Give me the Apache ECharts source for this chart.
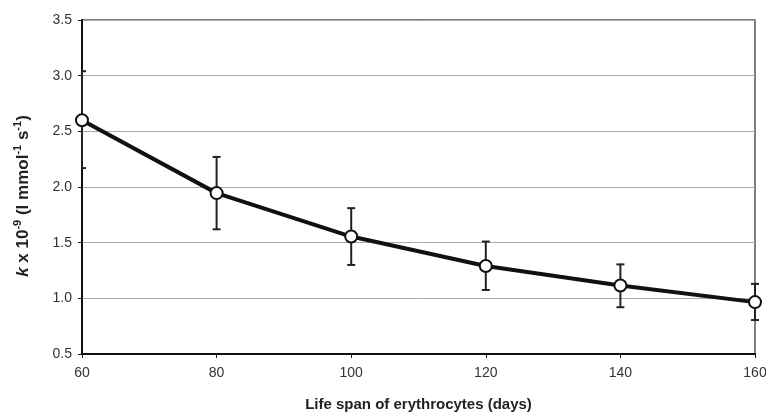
<!DOCTYPE html>
<html lang="en">
<head>
    <meta charset="UTF-8">
    <title>Life span chart</title>
    <script src="https://cdn.jsdelivr.net/npm/echarts@6/dist/echarts.min.js"></script>
</head>
<body style="margin: 0">
<div id="main" style="width: 766px;height: 412px"></div>
<script>
    const days = [60, 80, 100, 120, 140, 160];
    const kValues = [2.60, 1.945, 1.555, 1.29, 1.115, 0.966];
    const errLow = [2.17, 1.62, 1.30, 1.075, 0.92, 0.805];
    const errHigh = [3.04, 2.27, 1.81, 1.51, 1.305, 1.13];

    const chartDom = document.getElementById('main');
    const myChart = echarts.init(chartDom);
    const font = 'Liberation Sans, Arial, sans-serif';

    const errData = days.map((d, i) => [d, errLow[i], errHigh[i]]);

    let option = {
        animation: false,
        textStyle: {fontFamily: font},
        grid: {
            left: 82, right: 11, top: 20, bottom: 58,
            outerBoundsMode: 'none',
            show: true, borderColor: '#555', borderWidth: 1.5
        },
        xAxis: {
            type: 'value',
            min: 60, max: 160, interval: 20,
            name: 'Life span of erythrocytes (days)',
            nameLocation: 'middle',
            nameGap: 43,
            nameTextStyle: {fontSize: 15, fontWeight: 'bold', color: '#222', fontFamily: font},
            axisLine: {lineStyle: {color: '#111', width: 2}},
            axisTick: {show: true, length: 4, lineStyle: {color: '#111', width: 1}},
            axisLabel: {fontSize: 14, color: '#333', margin: 12, fontFamily: font},
            splitLine: {show: false}
        },
        yAxis: {
            type: 'value',
            min: 0.5, max: 3.5, interval: 0.5,
            name: '{i|k}{b| x 10}{s|-9}{b| (l mmol}{s|-1}{b| s}{s|-1}{b|)}',
            nameLocation: 'middle',
            nameGap: 50,
            nameRotate: 90,
            nameTextStyle: {
                fontFamily: font,
                padding: [0, 18, 0, 0],
                rich: {
                    i: {fontSize: 17, fontWeight: 'bold', fontStyle: 'italic', color: '#222', fontFamily: font, lineHeight: 20, verticalAlign: 'bottom'},
                    b: {fontSize: 17, fontWeight: 'bold', color: '#222', fontFamily: font, lineHeight: 20, verticalAlign: 'bottom'},
                    s: {fontSize: 11, fontWeight: 'bold', color: '#222', fontFamily: font, lineHeight: 20, verticalAlign: 'top'}
                }
            },
            axisLine: {show: true, lineStyle: {color: '#111', width: 2}},
            axisTick: {show: true, length: 4, lineStyle: {color: '#111', width: 1}},
            axisLabel: {fontSize: 14, color: '#333', margin: 10, fontFamily: font,
                formatter: v => v.toFixed(1)},
            splitLine: {show: true, lineStyle: {color: '#aaa', width: 1}}
        },
        series: [
            {
                type: 'custom',
                z: 1,
                data: errData,
                renderItem: function (params, api) {
                    const x = api.value(0);
                    const lo = api.coord([x, api.value(1)]);
                    const hi = api.coord([x, api.value(2)]);
                    const w = 4;
                    const cs = params.coordSys;
                    const style = {stroke: '#222', lineWidth: 2};
                    const lines = [
                        [hi[0], hi[1], lo[0], lo[1]],
                        [hi[0] - w, hi[1], hi[0] + w, hi[1]],
                        [lo[0] - w, lo[1], lo[0] + w, lo[1]]
                    ];
                    return {
                        type: 'group',
                        children: lines.map(l => ({
                            type: 'line',
                            shape: {
                                x1: Math.max(l[0], cs.x), y1: l[1],
                                x2: Math.max(l[2], cs.x), y2: l[3]
                            },
                            style: style
                        }))
                    };
                }
            },
            {
                type: 'line',
                z: 3,
                data: days.map((d, i) => [d, kValues[i]]),
                symbol: 'circle',
                symbolSize: 12,
                itemStyle: {color: '#fff', borderColor: '#111', borderWidth: 2},
                lineStyle: {color: '#111', width: 4}
            }
        ]
    };

    option && myChart.setOption(option);
</script>
</body>
</html>
